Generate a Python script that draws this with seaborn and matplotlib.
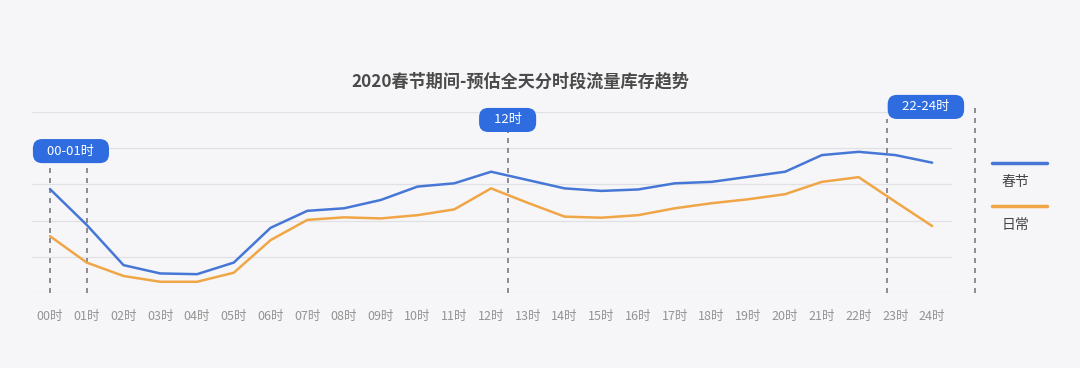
import matplotlib
matplotlib.use("Agg")
from matplotlib import pyplot as plt
import seaborn as sns
import pandas as pd

# Hourly traffic inventory (grid units)
hours = list(range(25))
hour_labels = [f"{h:02d}时" for h in hours]
spring = [2.87, 1.88, 0.77, 0.54, 0.52, 0.84, 1.80, 2.27, 2.34, 2.57, 2.94, 3.03, 3.35,
          3.12, 2.89, 2.82, 2.86, 3.03, 3.07, 3.21, 3.35, 3.81, 3.90, 3.81, 3.60]
daily = [1.57, 0.84, 0.47, 0.31, 0.31, 0.56, 1.46, 2.02, 2.09, 2.06, 2.15, 2.31, 2.89,
         2.49, 2.11, 2.08, 2.15, 2.34, 2.48, 2.59, 2.73, 3.07, 3.20, 2.52, 1.85]
series_names = ["春节", "日常"]
title = "2020春节期间-预估全天分时段流量库存趋势"

# highlight boxes: label, box centre x, box centre y, dashed line positions (x, top)
highlights = [
    ("00-01时", 0.57, 3.92, [(0.0, 3.48), (1.0, 3.48)]),
    ("12时", 12.45, 4.78, [(12.45, 4.45)]),
    ("22-24时", 23.83, 5.14, [(22.77, 4.80), (25.17, 5.19)]),
]

bg = "#f6f6f8"
blue = "#4677d6"
orange = "#f0a646"
box_blue = "#2e6ce0"

df = pd.DataFrame({
    "hour": hours * 2,
    "value": spring + daily,
    "series": [series_names[0]] * 25 + [series_names[1]] * 25,
})

sns.set_style("white")
plt.rcParams["font.family"] = ["Noto Sans CJK SC", "DejaVu Sans"]

fig = plt.figure(figsize=(10.8, 3.68), dpi=100, facecolor=bg)
ax = fig.add_axes([32 / 1080, 75 / 368, 920 / 1080, 181 / 368])
ax.set_facecolor(bg)

sns.lineplot(data=df, x="hour", y="value", hue="series",
             palette=[blue, orange], linewidth=1.8, ax=ax, legend=False)

ax.set_xlim(-0.49, 24.54)
ax.set_ylim(0, 5)
ax.set_yticks([0, 1, 2, 3, 4, 5])
ax.set_yticklabels([])
ax.grid(axis="y", color="#e0e1e4", linewidth=0.9)
ax.tick_params(axis="y", length=0)
ax.set_xticks(hours)
ax.set_xticklabels(hour_labels, fontsize=9, color="#939393", style="italic")
ax.tick_params(axis="x", length=0, pad=12)
for s in ax.spines.values():
    s.set_visible(False)
ax.set_xlabel("")
ax.set_ylabel("")

for label, bx, by, lines in highlights:
    for lx, top in lines:
        ax.plot([lx, lx], [0, top], ls=(0, (3, 3)), color="#7a7a80",
                linewidth=1.2, clip_on=False, zorder=1)
    ax.text(bx, by, "   " + label + "   ", ha="center", va="center", fontsize=9.5,
            color="white", style="italic", zorder=5, clip_on=False,
            bbox=dict(boxstyle="round,pad=0.42,rounding_size=0.7", fc=box_blue, ec="none"))

fig.text(520 / 1080, 1 - 81 / 368, title, ha="center", va="center", fontsize=12.3,
         fontweight="bold", style="italic", color="#4a4a4a")

# legend drawn by hand on the right
for i, (name, col) in enumerate(zip(series_names, [blue, orange])):
    ly = 1 - (163 + i * 43) / 368
    fig.add_artist(plt.Line2D([992 / 1080, 1047 / 1080], [ly, ly], color=col, linewidth=2.5))
    fig.text(1015 / 1080, ly - 19 / 368, name, ha="center", va="center",
             fontsize=10, color="#444444")

plt.savefig("out.png", dpi=100, facecolor=bg)
plt.close()
